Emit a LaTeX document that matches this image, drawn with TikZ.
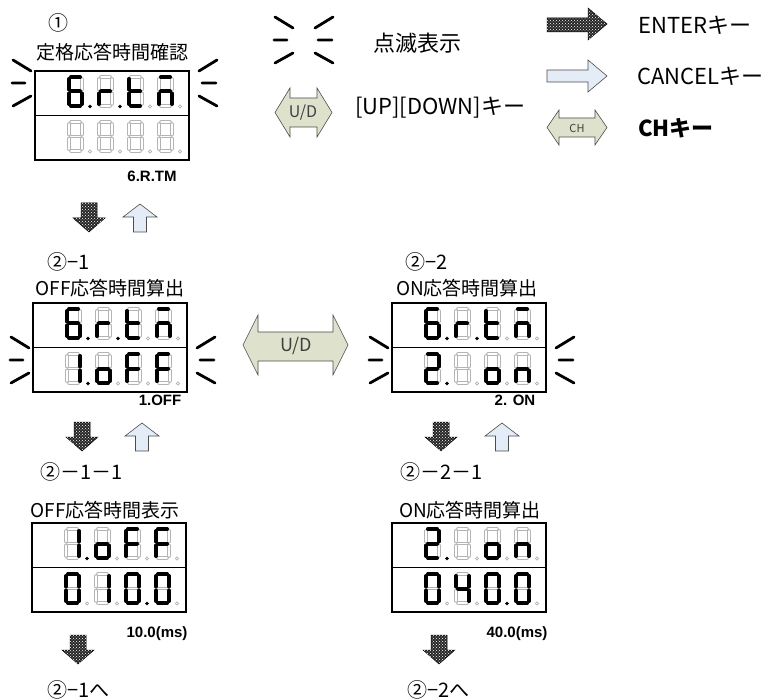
\documentclass[tikz,border=0pt]{standalone}
\usepackage{fontspec}
\setmainfont{Noto Sans CJK JP}
\newfontfamily\codefont{Liberation Sans}
\usetikzlibrary{patterns}

\definecolor{udfill}{HTML}{DEE2CC}
\definecolor{cancelfill}{HTML}{E4ECF7}
\definecolor{segoffcol}{HTML}{B4B4B4}

\tikzset{
  segon/.style={line width=4pt, line cap=round, black},
  segoff/.style={draw=segoffcol, line width=0.9pt, double=white, double distance=1.8pt, line cap=round},
  dpon/.style={fill=black},
  dpoff/.style={draw=segoffcol, line width=0.7pt, fill=white},
  dispbox/.style={draw=black, line width=1.4pt},
  blinkline/.style={line width=2.8pt, line cap=round},
  enterarrow/.style={draw=black, line width=0.5pt, fill=black!85,
    postaction={pattern=crosshatch dots, pattern color=white}},
  cancelarrow/.style={draw=black!70, line width=0.6pt, fill=cancelfill},
  keyarrow/.style={draw=black!70, line width=0.6pt, fill=udfill},
  titletext/.style={font=\fontsize{19}{22}\selectfont, inner sep=0pt},
  steptext/.style={font=\fontsize{20}{24}\selectfont, inner sep=0pt},
  legendtext/.style={font=\fontsize{22}{26}\selectfont, inner sep=0pt, anchor=west},
  codetext/.style={font=\codefont\bfseries\fontsize{15}{18}\selectfont, inner sep=0pt},
}

\def\segblank{z}
% one seven-segment digit: #1 top-left, #2 lit segments, #3 dot style
\newcommand{\segdigit}[3]{%
  \begin{scope}[shift={(#1)}]
    \foreach \s/\xa/\ya/\xb/\yb in {a/4/2.5/13/2.5, b/15/4.5/15/15, c/15/19/15/29.5,
        d/4/31.5/13/31.5, e/2/19/2/29.5, f/2/4.5/2/15, g/4/17/13/17} {
      \coordinate (seg-\s-1) at (\xa,\ya);
      \coordinate (seg-\s-2) at (\xb,\yb);
      \draw[segoff] (seg-\s-1) -- (seg-\s-2);
    }
    \foreach \s in {#2} {\edef\segtmp{\s}%
      \ifx\segtmp\segblank\else\draw[segon] (seg-\s-1) -- (seg-\s-2);\fi}
    \draw[#3] (23,32) circle (1.6);
  \end{scope}}
% four digits in a row
\newcommand{\segrow}[9]{%
  \begin{scope}[shift={(#1)}]
    \segdigit{0,0}{#2}{#3}
    \segdigit{30,0}{#4}{#5}
    \segdigit{60,0}{#6}{#7}
    \segdigit{90,0}{#8}{#9}
  \end{scope}}
\newcommand{\dispframe}[2]{%
  \draw[dispbox] (#1,#2) rectangle ++(154,89);
  \draw[dispbox] (#1,{#2+44.5}) -- ++(154,0);}
% blinking marks: #1 left edge, #2 right edge, #3 centre y
\newcommand{\blink}[3]{%
  \draw[blinkline] (#1-22,#3-23) -- (#1-4,#3-12) (#1-23,#3) -- (#1-10,#3)
    (#1-22,#3+23) -- (#1-4,#3+13);
  \draw[blinkline] (#2+10,#3-12) -- (#2+28,#3-23) (#2+13,#3) -- (#2+27,#3)
    (#2+10,#3+13) -- (#2+28,#3+23);}
\newcommand{\enterdown}[2]{%
  \draw[enterarrow] (#1-8,#2) -- (#1+8,#2) -- (#1+8,#2+15) -- (#1+16,#2+15)
    -- (#1,#2+29) -- (#1-16,#2+15) -- (#1-8,#2+15) -- cycle;}
\newcommand{\cancelup}[2]{%
  \draw[cancelarrow] (#1,#2) -- (#1+17,#2+13) -- (#1+6.5,#2+13) -- (#1+6.5,#2+28)
    -- (#1-6.5,#2+28) -- (#1-6.5,#2+13) -- (#1-17,#2+13) -- cycle;}
% double key arrow: style, x1, x2, head top, head bottom, shaft top, shaft bottom, depth
\newcommand{\keyarrow}[8]{%
  \draw[#1] (#2,{(#4+#5)/2}) -- (#2+#8,#4) -- (#2+#8,#6) -- (#3-#8,#6) -- (#3-#8,#4)
    -- (#3,{(#4+#5)/2}) -- (#3-#8,#5) -- (#3-#8,#7) -- (#2+#8,#7) -- (#2+#8,#5) -- cycle;}

\begin{document}
\begin{tikzpicture}[x=1pt, y=-1pt]
  \useasboundingbox (0,0) rectangle (776,700);

  % legend
  \blink{297}{305}{40}
  \node[legendtext] (blinklbl) at (373,43) {点滅表示};
  \keyarrow{keyarrow}{275}{332}{88}{137}{98}{127}{15}
  \node[font=\fontsize{16}{18}\selectfont, text=black!75] (udkey) at (303,113) {U/D};
  \node[legendtext] (udlbl) at (355,108) {[UP][DOWN]キー};
  \draw[enterarrow] (547,18) -- (588,18) -- (588,8) -- (607,24) -- (588,40) -- (588,32) -- (547,32) -- cycle;
  \node[legendtext] (enterlbl) at (638,25) {ENTERキー};
  \draw[cancelarrow] (547,70) -- (588,70) -- (588,60) -- (607,76) -- (588,92) -- (588,82) -- (547,82) -- cycle;
  \node[legendtext] (cancellbl) at (637,76) {CANCELキー};
  \keyarrow{keyarrow}{547}{607}{110}{145}{118}{137}{12}
  \node[font=\fontsize{11}{13}\selectfont, text=black!75] (chkey) at (577,128) {CH};
  \node[legendtext, font=\fontsize{22}{26}\selectfont\bfseries] (chlbl) at (638,128) {CHキー};

  % 1: rated response time check
  \node[steptext] (s1) at (58,23) {①};
  \node[titletext] (t1) at (112,52) {定格応答時間確認};
  \dispframe{35}{71}
  \segrow{67,74.5}{a,c,d,e,f,g}{dpon}{e,g}{dpon}{d,e,f,g}{dpoff}{a,c,e,g}{dpoff}
  \segrow{67,119.5}{z}{dpoff}{z}{dpoff}{z}{dpoff}{z}{dpoff}
  \blink{35}{189}{83}
  \node[codetext] (c1) at (152,176) {6.R.TM};
  \enterdown{89}{203}
  \cancelup{140}{204}

  % 2-1: OFF response time
  \node[steptext, anchor=west] (s21) at (47,262) {②−1};
  \node[titletext] (t21) at (110,288) {OFF応答時間算出};
  \dispframe{33}{303}
  \segrow{65,306.5}{a,c,d,e,f,g}{dpon}{e,g}{dpon}{d,e,f,g}{dpoff}{a,c,e,g}{dpoff}
  \segrow{65,351.5}{b,c}{dpon}{c,d,e,g}{dpoff}{a,e,f,g}{dpoff}{a,e,f,g}{dpoff}
  \blink{33}{187}{360}
  \node[codetext] (c21) at (160,400) {1.OFF};
  \enterdown{82}{422}
  \cancelup{142}{423}

  % U/D between 2-1 and 2-2
  \keyarrow{keyarrow}{243}{348}{315}{375}{332}{361}{15}
  \node[font=\fontsize{18}{20}\selectfont, text=black!75] (udmid) at (296,346) {U/D};

  % 2-2: ON response time
  \node[steptext, anchor=west] (s22) at (405,262) {②−2};
  \node[titletext] (t22) at (467,288) {ON応答時間算出};
  \dispframe{392}{303}
  \segrow{424,306.5}{a,c,d,e,f,g}{dpon}{e,g}{dpon}{d,e,f,g}{dpoff}{a,c,e,g}{dpoff}
  \segrow{424,351.5}{a,b,d,e,g}{dpon}{z}{dpoff}{c,d,e,g}{dpoff}{c,e,g}{dpoff}
  \blink{392}{546}{360}
  \node[codetext] (c22) at (515,400) {2. ON};
  \enterdown{441}{422}
  \cancelup{502}{423}

  % 2-1-1: OFF response time display
  \node[steptext, anchor=west] (s211) at (40,472) {②－1－1};
  \node[titletext] (t211) at (105,510) {OFF応答時間表示};
  \dispframe{32}{523}
  \segrow{64,526.5}{b,c}{dpon}{c,d,e,g}{dpoff}{a,e,f,g}{dpoff}{a,e,f,g}{dpoff}
  \segrow{64,571.5}{a,b,c,d,e,f}{dpoff}{b,c}{dpoff}{a,b,c,d,e,f}{dpon}{a,b,c,d,e,f}{dpoff}
  \node[codetext] (c211) at (157,634) {10.0(ms)};
  \enterdown{78}{635}
  \node[steptext, anchor=west] (s21back) at (47,690) {②−1へ};

  % 2-2-1: ON response time display
  \node[steptext, anchor=west] (s221) at (400,472) {②－2－1};
  \node[titletext] (t221) at (470,510) {ON応答時間算出};
  \dispframe{392}{523}
  \segrow{424,526.5}{a,b,d,e,g}{dpon}{z}{dpoff}{c,d,e,g}{dpoff}{c,e,g}{dpoff}
  \segrow{424,571.5}{a,b,c,d,e,f}{dpoff}{b,c,f,g}{dpoff}{a,b,c,d,e,f}{dpon}{a,b,c,d,e,f}{dpoff}
  \node[codetext] (c221) at (517,634) {40.0(ms)};
  \enterdown{439}{635}
  \node[steptext, anchor=west] (s22back) at (407,690) {②−2へ};
\end{tikzpicture}
\end{document}
